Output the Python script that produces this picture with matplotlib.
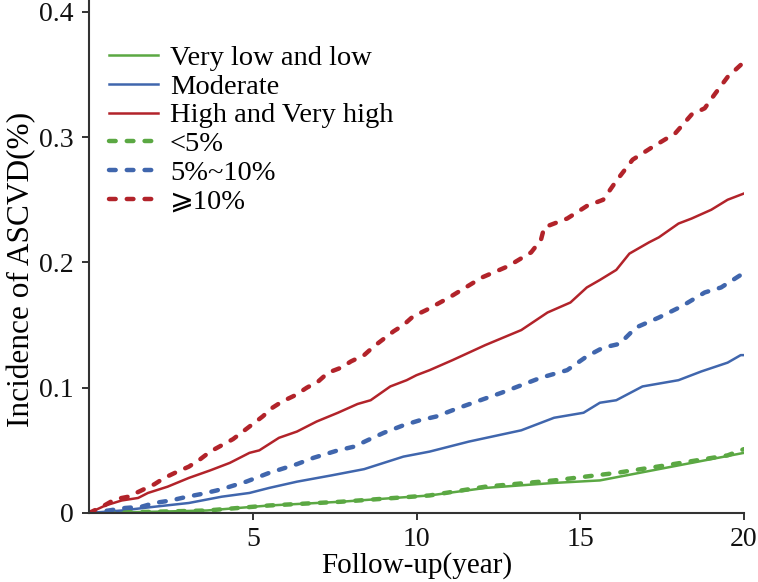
import matplotlib
matplotlib.use('Agg')
import matplotlib.pyplot as plt

plt.rcParams['font.family'] = ['Liberation Serif', 'DejaVu Sans']

# 数据
x_vhigh_dot = [0, 0.4, 0.8, 1.2, 1.6, 2.0, 2.3, 2.7, 3.05, 3.4, 3.7, 4.05, 4.4, 4.7, 5.0, 5.3, 5.6, 5.9, 6.3,
               6.65, 7.0, 7.3, 7.7, 8.0, 8.4, 8.7, 9.0, 9.3, 9.6, 9.9, 10.3, 11.0, 12.0, 12.8, 13.5, 13.8,
               13.9, 14.6, 15.2, 15.7, 16.1, 16.6, 17.2, 17.9, 18.4, 18.8, 19.1, 19.5, 20.0]
y_vhigh_dot = [0, 0.005, 0.011, 0.013, 0.018, 0.023, 0.028, 0.033, 0.037, 0.043, 0.049, 0.054, 0.059, 0.065,
               0.071, 0.077, 0.084, 0.089, 0.094, 0.100, 0.105, 0.112, 0.116, 0.121, 0.126, 0.133, 0.139,
               0.145, 0.150, 0.157, 0.162, 0.172, 0.188, 0.197, 0.208, 0.218, 0.228, 0.235, 0.245, 0.250,
               0.265, 0.282, 0.292, 0.303, 0.318, 0.323, 0.334, 0.348, 0.360]

x_high = [0, 0.5, 1.0, 1.5, 1.8, 2.4, 3.05, 3.7, 4.3, 4.9, 5.2, 5.8, 6.35, 6.95, 7.6, 8.2, 8.6, 9.2, 9.7, 10.0,
          10.4, 11.1, 12.1, 13.2, 14.0, 14.7, 15.2, 15.6, 16.1, 16.5, 17.1, 17.4, 18.0, 18.4, 19.0, 19.5, 20.0]
y_high = [0, 0.006, 0.010, 0.012, 0.016, 0.021, 0.028, 0.034, 0.040, 0.048, 0.050, 0.060, 0.065, 0.073, 0.080,
          0.087, 0.090, 0.101, 0.106, 0.110, 0.114, 0.122, 0.134, 0.146, 0.160, 0.168, 0.180, 0.186, 0.194,
          0.207, 0.216, 0.220, 0.231, 0.235, 0.242, 0.250, 0.255]

x_mid_dot = [0, 0.6, 1.1, 1.6, 2.0, 2.5, 3.0, 3.4, 3.9, 4.3, 4.8, 5.5, 6.35, 6.85, 7.6, 8.1, 8.5, 9.0, 9.6,
             10.1, 10.6, 11.3, 12.6, 13.8, 14.6, 15.2, 15.7, 16.2, 16.7, 17.4, 18.1, 18.8, 19.3, 19.9, 20.0]
y_mid_dot = [0, 0.002, 0.004, 0.005, 0.008, 0.010, 0.013, 0.015, 0.018, 0.021, 0.025, 0.032, 0.039, 0.044,
             0.050, 0.053, 0.058, 0.064, 0.070, 0.074, 0.077, 0.084, 0.096, 0.108, 0.114, 0.125, 0.132,
             0.135, 0.148, 0.156, 0.165, 0.176, 0.180, 0.190, 0.193]

x_mod = [0, 1, 2, 3.05, 4.05, 4.9, 5.5, 6.35, 7.4, 8.4, 9.0, 9.6, 10.4, 11.6, 13.2, 14.2, 15.1, 15.6, 16.1,
         16.9, 18.0, 18.7, 19.5, 19.9, 20]
y_mod = [0, 0.002, 0.005, 0.008, 0.013, 0.016, 0.020, 0.025, 0.030, 0.035, 0.040, 0.045, 0.049, 0.057, 0.066,
         0.076, 0.080, 0.088, 0.090, 0.101, 0.106, 0.113, 0.120, 0.126, 0.126]

x_low = [0, 2, 3.6, 5.5, 7.7, 10.4, 12.1, 14.2, 15.6, 17.6, 20]
y_low = [0, 0.001, 0.002, 0.006, 0.009, 0.014, 0.020, 0.024, 0.026, 0.036, 0.048]

x_low_dot = [0, 2, 3.6, 5.5, 7.7, 10.4, 12.1, 14.2, 16.1, 17.6, 19.5, 20]
y_low_dot = [0, 0.001, 0.002, 0.006, 0.009, 0.014, 0.021, 0.026, 0.032, 0.038, 0.046, 0.051]

labels = ['Very low and low', 'Moderate', 'High and Very high', '<5%', '5%~10%', '\u2a7e10%']

green = '#5ba843'
blue = '#4066ad'
red = '#b2232a'
dots = (0, (1.5, 2.5))

fig = plt.figure(figsize=(7.58, 5.82), dpi=100)
ax = fig.add_axes([89/758, 69/582, 655/758, 513/582])

ax.plot(x_low, y_low, color=green, lw=1.8, label=labels[0])
ax.plot(x_mod, y_mod, color=blue, lw=1.8, label=labels[1])
ax.plot(x_high, y_high, color=red, lw=1.8, label=labels[2])
ax.plot(x_low_dot, y_low_dot, color=green, lw=3.2, ls=dots, dash_capstyle='round', label=labels[3])
ax.plot(x_mid_dot, y_mid_dot, color=blue, lw=3.2, ls=dots, dash_capstyle='round', label=labels[4])
ax.plot(x_vhigh_dot, y_vhigh_dot, color=red, lw=3.2, ls=dots, dash_capstyle='round', label=labels[5])

ax.set_xlim(0, 20)
ax.set_ylim(0, 513/1253)
ax.set_xticks([5, 10, 15, 20])
ax.set_yticks([0, 0.1, 0.2, 0.3, 0.4])
ax.set_yticklabels(['0', '0.1', '0.2', '0.3', '0.4'])

# 坐标轴样式
ax.spines['top'].set_visible(False)
ax.spines['right'].set_visible(False)
ax.spines['left'].set_color('#333333')
ax.spines['bottom'].set_color('#333333')
ax.spines['left'].set_linewidth(1.5)
ax.spines['bottom'].set_linewidth(1.5)
ax.tick_params(axis='both', direction='out', length=5, width=1.2, labelsize=20, colors='#111111')
ax.tick_params(axis='x', pad=5)
ax.tick_params(axis='y', pad=6)

ax.set_xlabel('Follow-up(year)', fontsize=21, labelpad=0)
ax.set_ylabel('Incidence of ASCVD(%)', fontsize=22.5)
ax.yaxis.set_label_coords(-0.08, 0.474)

leg = ax.legend(loc='upper left', bbox_to_anchor=(20/655, (513-45)/513), frameon=False, fontsize=20.5,
                borderpad=0, borderaxespad=0, handlelength=1.72, handletextpad=0.42, labelspacing=0.1)

fig.savefig('out.png', dpi=100)
